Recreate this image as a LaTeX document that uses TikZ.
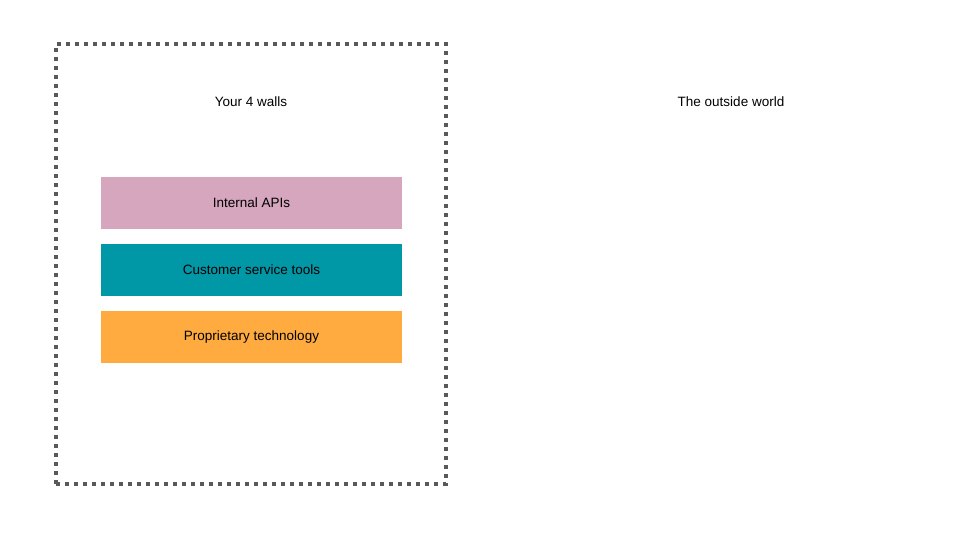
\documentclass[tikz,border=0pt]{standalone}
\usepackage{fontspec}
\setmainfont{Liberation Sans}
\begin{document}
\begin{tikzpicture}[x=1pt,y=-1pt,
  bar/.style={minimum width=301pt,minimum height=52pt,inner sep=0pt,font=\fontsize{13.5}{16}\selectfont},
  lbl/.style={font=\fontsize{13.5}{16}\selectfont}]
\definecolor{pinkc}{HTML}{D5A6BD}
\definecolor{tealc}{HTML}{0097A7}
\definecolor{orangec}{HTML}{FFAB40}
\definecolor{dotc}{HTML}{595959}
\useasboundingbox (0,0) rectangle (960,540);
\node[draw=dotc,line width=4pt,dash pattern=on 4pt off 5pt,minimum width=390pt,minimum height=440pt,inner sep=0pt] (walls) at (251,264) {};
\node[lbl] (t1) at (251,102) {Your 4 walls};
\node[lbl] (t2) at (731,102) {The outside world};
\node[bar,fill=pinkc] (api) at (251.5,203) {Internal APIs};
\node[bar,fill=tealc] (cst) at (251.5,270) {Customer service tools};
\node[bar,fill=orangec] (prop) at (251.5,337) {Proprietary technology};
\end{tikzpicture}
\end{document}
